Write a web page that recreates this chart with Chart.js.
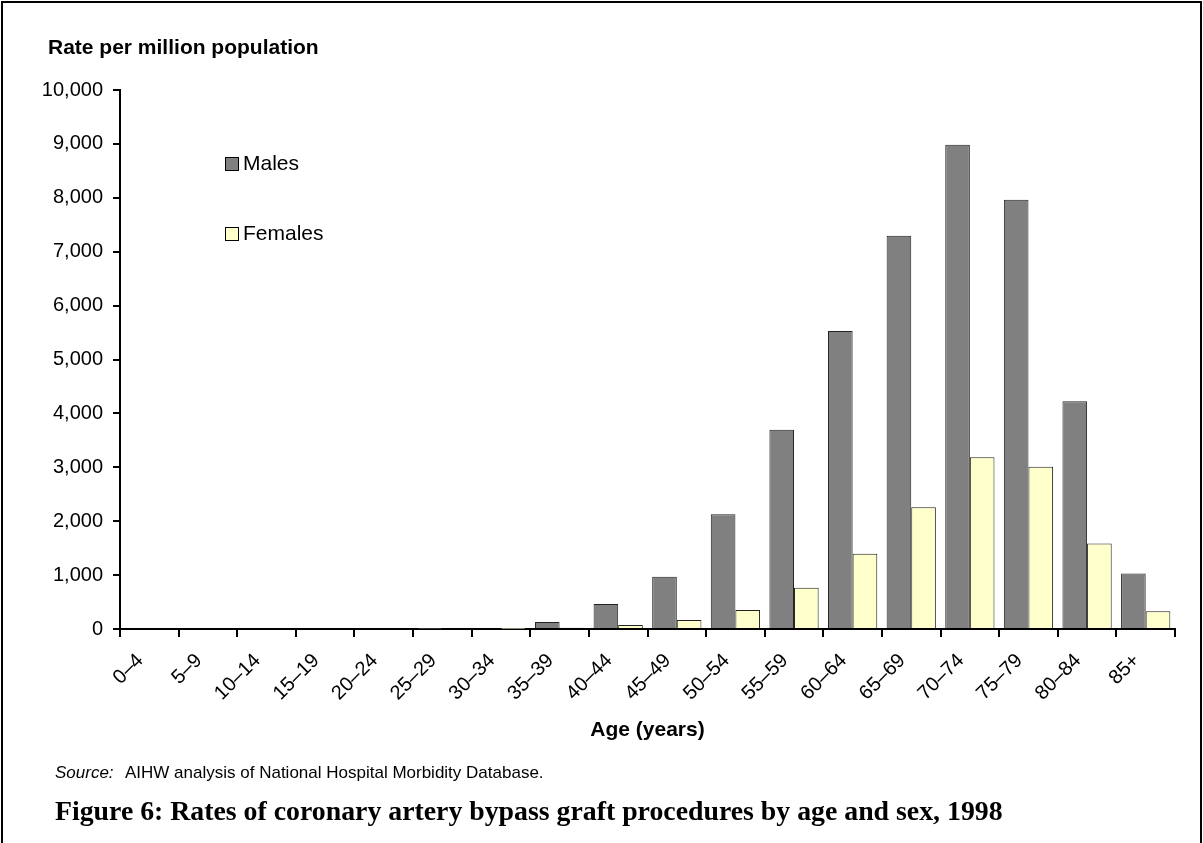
<!DOCTYPE html>
<html>
<head>
<meta charset="utf-8">
<script src="https://cdn.jsdelivr.net/npm/chart.js@4.4.0/dist/chart.umd.min.js"></script>
<style>
  html, body { margin: 0; padding: 0; background: #fff; }
  #wrap { position: relative; width: 1203px; height: 843px; overflow: hidden; }
  #frame { position: absolute; left: 1px; top: 1px; width: 1201px; height: 900px; border: 2px solid #000; box-sizing: border-box; pointer-events: none; }
  .leg { position: absolute; left: 225px; font: 21px "Liberation Sans", Arial, sans-serif; color: #000; line-height: 24px; }
  .leg span.box { display: inline-block; width: 12px; height: 12px; border: 1px solid #000; margin-right: 4px; vertical-align: -1px; }
</style>
</head>
<body>
<div id="wrap">
  <canvas id="myChart" width="1203" height="843"></canvas>
  <div id="legend"></div>
  <div id="frame"></div>
</div>
<script>
// 年齡組
const ageGroups = ['0–4', '5–9', '10–14', '15–19', '20–24', '25–29', '30–34', '35–39', '40–44',
  '45–49', '50–54', '55–59', '60–64', '65–69', '70–74', '75–79', '80–84', '85+'];
// 每百萬人口比率
const males = [0, 0, 0, 0, 0, 3, 15, 130, 465, 970, 2130, 3695, 5530, 7295, 8985, 7965, 4225, 1030];
const females = [0, 0, 0, 0, 0, 0, 2, 22, 75, 168, 352, 765, 1395, 2258, 3187, 3012, 1585, 330];
// Y軸
const yMax = 10000;
const yStep = 1000;

const seriesNames = ['Males', 'Females'];
const seriesColors = ['#808080', '#FFFFCC'];

const yTitle = 'Rate per million population';
const xTitle = 'Age (years)';
const sourceLead = 'Source:';
const sourceText = 'AIHW analysis of National Hospital Morbidity Database.';
const caption = 'Figure 6: Rates of coronary artery bypass graft procedures by age and sex, 1998';

const sans = '"Liberation Sans", Arial, sans-serif';

// 圖外文字
const textPlugin = {
  id: 'texts',
  afterDraw(chart) {
    const ctx = chart.ctx;
    ctx.save();
    ctx.fillStyle = '#000';
    ctx.textBaseline = 'alphabetic';
    ctx.textAlign = 'left';
    ctx.font = 'bold 21px ' + sans;
    ctx.fillText(yTitle, 48, 54);

    ctx.font = 'italic 17px ' + sans;
    ctx.fillText(sourceLead, 55, 778);
    ctx.font = '17px ' + sans;
    ctx.fillText(sourceText, 125, 778);

    // 標題寬度對齊原圖
    let size = 24;
    ctx.font = 'bold ' + size + 'px "Liberation Serif", "Times New Roman", serif';
    const w = ctx.measureText(caption).width;
    size = size * 948 / w;
    ctx.font = 'bold ' + size.toFixed(2) + 'px "Liberation Serif", "Times New Roman", serif';
    ctx.fillText(caption, 55, 820);
    ctx.restore();
  }
};

const data = {
  labels: ageGroups,
  datasets: [
    {
      label: seriesNames[0],
      data: males,
      backgroundColor: seriesColors[0],
      borderColor: '#222',
      borderWidth: 1,
      categoryPercentage: 0.84,
      barPercentage: 1
    },
    {
      label: seriesNames[1],
      data: females,
      backgroundColor: seriesColors[1],
      borderColor: '#222',
      borderWidth: 1,
      categoryPercentage: 0.84,
      barPercentage: 1
    }
  ]
};

const config = {
  type: 'bar',
  data: data,
  options: {
    responsive: false,
    animation: false,
    layout: { padding: { left: 0, right: 28, top: 90, bottom: 96 } },
    plugins: {
      legend: { display: false },
      tooltip: { enabled: false }
    },
    scales: {
      x: {
        offset: true,
        grid: { offset: true, drawOnChartArea: false, color: '#000', lineWidth: 2, tickLength: 8 },
        border: { color: '#000', width: 2 },
        ticks: {
          color: '#000',
          font: { family: sans, size: 20 },
          maxRotation: 45,
          minRotation: 45,
          autoSkip: false,
          padding: 12,
          labelOffset: -9
        },
        title: {
          display: true,
          text: xTitle,
          color: '#000',
          font: { family: sans, size: 21, weight: 'bold' },
          padding: { top: 0, bottom: 4 }
        },
        afterFit(scale) { scale.height = 118; }
      },
      y: {
        min: 0,
        max: yMax,
        ticks: {
          stepSize: yStep,
          color: '#000',
          font: { family: sans, size: 20 },
          padding: 10,
          callback: v => v.toLocaleString('en-US')
        },
        grid: { drawOnChartArea: false, color: '#000', lineWidth: 2, tickLength: 7 },
        border: { color: '#000', width: 2 },
        afterFit(scale) { scale.width = 120; }
      }
    }
  },
  plugins: [textPlugin]
};

const chart = new Chart(document.getElementById('myChart'), config);

// 圖例
const legend = document.getElementById('legend');
seriesNames.forEach((name, i) => {
  const d = document.createElement('div');
  d.className = 'leg';
  d.style.top = (151 + i * 70) + 'px';
  d.innerHTML = '<span class="box" style="background:' + seriesColors[i] + '"></span>' + name;
  legend.appendChild(d);
});
</script>
</body>
</html>
